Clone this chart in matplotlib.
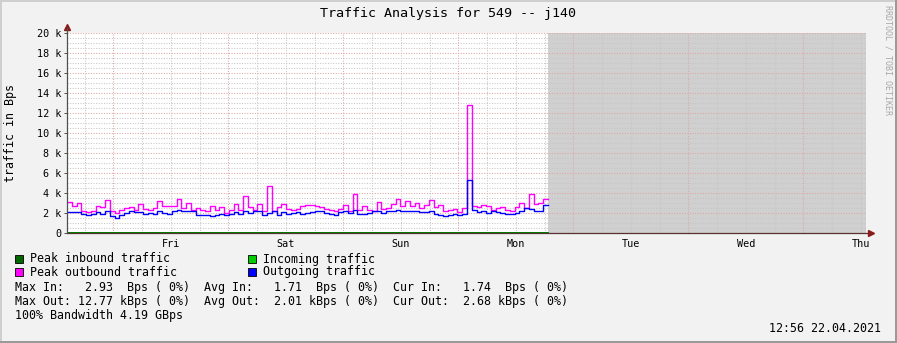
import numpy as np
import matplotlib.pyplot as plt
from matplotlib.patches import Rectangle
from matplotlib.ticker import FuncFormatter

plt.rcParams['font.family'] = 'DejaVu Sans Mono'

# --- data (kBps, one value per ~hour) ---
peak_out_k = [3.07, 2.75, 2.97, 2.17, 2.07, 2.23, 2.67, 2.57, 3.27, 2.17, 2.0, 2.33, 2.5,
              2.57, 2.33, 2.9, 2.43, 2.33, 2.5, 3.23, 2.73, 2.67, 2.67, 3.43, 2.5,
              3.0, 2.33, 2.5, 2.33, 2.17, 2.67, 2.33, 2.57, 2.0, 2.33, 2.9, 2.33, 3.67,
              2.57, 2.33, 2.9, 2.17, 4.67, 2.17, 2.57, 2.9, 2.43, 2.33, 2.43, 2.67,
              2.83, 2.83, 2.67, 2.57, 2.43, 2.33, 2.17, 2.43, 2.83, 2.17, 3.9, 2.33, 2.67,
              2.33, 2.17, 3.1, 2.43, 2.5, 2.9, 3.43, 2.67, 3.23, 2.67, 3.0, 2.5,
              2.77, 3.33, 2.57, 2.83, 2.17, 2.33, 2.43, 2.07, 2.5, 12.77, 2.67, 2.57, 2.83,
              2.67, 2.33, 2.5, 2.57, 2.33, 2.17, 2.57, 3.0, 2.5, 3.9, 2.9, 3.0, 3.43]
out_k = [2.1, 2.1, 2.07, 1.9, 1.83, 1.9, 2.07, 1.9, 2.17, 1.67, 1.5, 1.77, 2.0,
         2.17, 2.07, 2.07, 1.9, 2.0, 1.9, 2.17, 2.0, 1.9, 2.23, 2.33, 2.17,
         2.17, 2.17, 1.77, 1.83, 1.83, 1.67, 1.83, 1.9, 1.77, 1.9, 2.07, 1.9, 2.17,
         2.0, 2.17, 2.17, 1.83, 2.0, 2.17, 1.83, 2.07, 1.9, 2.0, 2.07, 1.9,
         2.0, 2.1, 2.17, 2.17, 2.0, 1.9, 1.83, 2.07, 2.17, 2.0, 2.33, 1.9, 1.9,
         2.0, 2.17, 2.23, 2.0, 2.17, 2.17, 2.33, 2.17, 2.23, 2.17, 2.23, 2.07,
         2.07, 2.17, 1.9, 1.83, 1.67, 1.83, 1.9, 1.83, 1.9, 5.33, 2.33, 2.1, 2.17,
         2.0, 2.17, 2.07, 2.0, 1.9, 1.9, 2.0, 2.17, 2.5, 2.43, 2.23, 2.23, 2.77]
in_bps = [1.71, 1.74]          # avg, cur  (practically zero)
in_peak_bps = [2.93, 2.93]

day_labels = ['Fri', 'Sat', 'Sun', 'Mon', 'Tue', 'Wed', 'Thu']
# time axis in days counted from Thursday 00:00
t_left, t_right = 0.0957, 7.0435
t_start, t_now = 0.0957, 4.278

stats = [
    "Max In:   2.93  Bps ( 0%)  Avg In:   1.71  Bps ( 0%)  Cur In:   1.74  Bps ( 0%)",
    "Max Out: 12.77 kBps ( 0%)  Avg Out:  2.01 kBps ( 0%)  Cur Out:  2.68 kBps ( 0%)",
    "100% Bandwidth 4.19 GBps",
]

W, H = 897, 343
fig = plt.figure(figsize=(W / 100, H / 100), dpi=100, facecolor='#f2f2f2')


def fx(px):
    return px / W


def fy(py):
    return 1 - py / H


ax = fig.add_axes([fx(67), fy(233), (866 - 67) / W, 200 / H])
ax.set_facecolor('white')
ax.set_xlim(t_left, t_right)
ax.set_ylim(0, 20000)
for s in ax.spines.values():
    s.set_visible(False)

# "unknown" future area
ax.axvspan(t_now, t_right, color='#d0d0d0', zorder=0, lw=0)

# grid
dots = (0, (1, 1.5))
for v in np.arange(500, 20001, 500):
    major = v % 2000 == 0
    ax.axhline(v, color='#e0a4a4' if major else '#c6c6c6', lw=0.75, ls=dots, zorder=1)
for d in np.arange(0.25, 7.01, 0.25):
    major = abs((d % 1) - 0.5) < 1e-6
    ax.axvline(d, color='#e0a4a4' if major else '#c6c6c6', lw=0.75, ls=dots, zorder=1)

# series
n = len(out_k)
dt = (t_now - t_start) / n
t = t_start + dt * np.arange(n + 1)
po = np.array(peak_out_k + [peak_out_k[-1]]) * 1000
oo = np.array(out_k + [out_k[-1]]) * 1000
ax.step(t, po, where='post', color='#ff00ff', lw=1.0, zorder=3)
ax.step(t, oo, where='post', color='#0000ff', lw=1.0, zorder=4)
ax.plot([t_start, t_now], in_bps, color='#00cc00', lw=1.2, zorder=5)
ax.plot([t_start, t_now], in_peak_bps, color='#006600', lw=1.2, zorder=6)

# axes lines + arrows
ax.plot([t_left, t_right + 0.03], [0, 0], color='#5a3030', lw=0.9, zorder=2, clip_on=False)
ax.plot([0, 0], [0, 1.025], color='#505050', lw=0.9, transform=ax.transAxes, clip_on=False, zorder=7)
ax.plot([0], [1.03], marker='^', ms=4, color='#8b1a1a', transform=ax.transAxes, clip_on=False)
ax.plot([1.006], [0], marker='>', ms=4, color='#8b1a1a', transform=ax.transAxes, clip_on=False)

# ticks
ax.set_yticks(np.arange(0, 20001, 2000))
ax.yaxis.set_major_formatter(FuncFormatter(lambda v, p: '0' if v == 0 else f'{int(v / 1000)} k'))
ax.tick_params(axis='y', length=2.5, width=0.7, color='#505050', pad=1.5, labelsize=7.3, labelcolor='black')
ax.set_xticks(np.arange(1, 8))
ax.set_xticklabels(day_labels)
ax.tick_params(axis='x', length=0, pad=4, labelsize=7.3)

# texts
fig.text(fx(11), fy(133), 'traffic in Bps', rotation=90, ha='center', va='center', fontsize=8.4)
fig.text(fx(448), fy(14), 'Traffic Analysis for 549 -- j140', ha='center', va='center', fontsize=9.6)
fig.text(fx(888), fy(60), 'RRDTOOL / TOBI OETIKER', rotation=270, ha='center', va='center',
         fontsize=6.0, color='#a8a8a8')

legend = [('Peak inbound traffic', '#006600', 15, 259), ('Incoming traffic', '#00cc00', 248, 259),
          ('Peak outbound traffic', '#ff00ff', 15, 272), ('Outgoing traffic', '#0000ff', 248, 272)]
for label, col, x0, y0 in legend:
    fig.add_artist(Rectangle((fx(x0), fy(y0 + 4)), 8 / W, 8 / H, transform=fig.transFigure,
                             facecolor=col, edgecolor='black', lw=0.6))
    fig.text(fx(x0 + 15), fy(y0), label, ha='left', va='center', fontsize=8.4)

for i, line in enumerate(stats):
    fig.text(fx(15), fy(287 + 14 * i), line, ha='left', va='center', fontsize=8.4)
fig.text(fx(881), fy(329), '12:56 22.04.2021', ha='right', va='center', fontsize=8.4)

# frame around the image
fig.add_artist(Rectangle((0, 1 - 2 / H), 1, 2 / H, transform=fig.transFigure, color='#cfcfcf', lw=0))
fig.add_artist(Rectangle((0, 0), 2 / W, 1, transform=fig.transFigure, color='#cfcfcf', lw=0))
fig.add_artist(Rectangle((0, 0), 1, 2 / H, transform=fig.transFigure, color='#9a9a9a', lw=0))
fig.add_artist(Rectangle((1 - 2 / W, 0), 2 / W, 1, transform=fig.transFigure, color='#9a9a9a', lw=0))

fig.savefig('out.png', dpi=100, facecolor=fig.get_facecolor())
